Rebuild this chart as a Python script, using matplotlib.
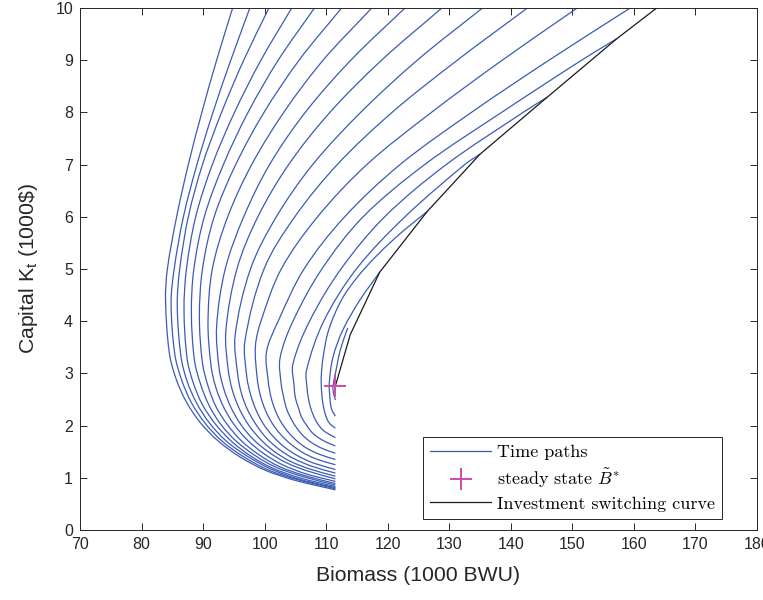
import matplotlib
matplotlib.use('Agg')
import matplotlib.pyplot as plt
from matplotlib.lines import Line2D
from matplotlib.path import Path
from matplotlib.patches import PathPatch
from matplotlib.font_manager import FontProperties

# ---- data ----
x_ticks = [70, 80, 90, 100, 110, 120, 130, 140, 150, 160, 170, 180]
y_ticks = [0, 1, 2, 3, 4, 5, 6, 7, 8, 9, 10]

# time paths: capital K (1000$) and biomass B (1000 BWU), outer -> inner
path_K = [
    [10, 9, 8, 7, 6, 5, 4.40, 3.40, 2.90, 2.45, 2.05, 1.70, 1.40, 1.15, 0.95, 0.77],
    [10, 9, 8, 7, 6, 5, 4.35, 3.37, 2.88, 2.44, 2.05, 1.70, 1.41, 1.16, 0.97, 0.79],
    [10, 9, 8, 7, 6, 5, 4.29, 3.33, 2.85, 2.42, 2.04, 1.70, 1.42, 1.18, 0.98, 0.81],
    [10, 9, 8, 7, 6, 5, 4.22, 3.29, 2.82, 2.40, 2.03, 1.70, 1.42, 1.19, 1.00, 0.83],
    [10, 9, 8, 7, 6, 5, 4.15, 3.25, 2.79, 2.38, 2.02, 1.70, 1.43, 1.21, 1.03, 0.86],
    [10, 9, 8, 7, 6, 5, 4.07, 3.20, 2.76, 2.36, 2.01, 1.70, 1.44, 1.22, 1.05, 0.89],
    [10, 9, 8, 7, 6, 5, 3.98, 3.14, 2.72, 2.34, 2.01, 1.71, 1.46, 1.25, 1.08, 0.93],
    [10, 9, 8, 7, 6, 5, 3.90, 3.10, 2.69, 2.33, 2.01, 1.73, 1.49, 1.29, 1.13, 0.98],
    [10, 9, 8, 7, 6, 5, 3.81, 3.05, 2.66, 2.32, 2.01, 1.74, 1.51, 1.32, 1.17, 1.03],
    [10, 9, 8, 7, 6, 5, 3.72, 3.00, 2.63, 2.31, 2.02, 1.76, 1.55, 1.37, 1.22, 1.09],
    [10, 9, 8, 7, 6, 5, 3.62, 2.94, 2.60, 2.30, 2.03, 1.79, 1.59, 1.42, 1.28, 1.16],
    [10, 9, 8, 7, 6, 5, 4, 3.52, 2.90, 2.58, 2.30, 2.05, 1.83, 1.65, 1.49, 1.36, 1.25],
    [10, 9, 8, 7, 6, 5, 4, 3.41, 2.84, 2.56, 2.30, 2.08, 1.88, 1.71, 1.57, 1.45, 1.35],
    [9.41, 9, 8, 7, 6, 5, 4, 3.29, 2.79, 2.54, 2.31, 2.11, 1.94, 1.79, 1.66, 1.56, 1.47],
    [8.29, 8, 7, 6, 5, 4, 3.18, 2.75, 2.53, 2.34, 2.16, 2.01, 1.88, 1.78, 1.69, 1.61],
    [7.20, 7, 6, 5, 4, 3.06, 2.71, 2.53, 2.37, 2.23, 2.10, 1.99, 1.91, 1.84, 1.77],
    [6.10, 5.80, 5.56, 5.23, 4.85, 4.41, 3.83, 3.31, 2.93, 2.66, 2.40, 2.20, 2.05, 1.95],
    [4.94, 4.41, 3.83, 3.31, 2.81, 2.54, 2.38, 2.28, 2.18],
    [3.87, 3.45, 3.0, 2.74, 2.62, 2.49],
]
path_B = [
    [94.8, 92.2, 89.8, 87.6, 85.7, 84.2, 83.9, 84.5, 85.6, 87.3, 89.6, 92.5, 96.0, 100.0, 105.0, 111.5],
    [97.6, 94.5, 91.6, 89.0, 86.8, 85.3, 84.8, 85.4, 86.5, 88.1, 90.3, 93.1, 96.5, 100.4, 105.2, 111.5],
    [100.7, 96.6, 93.0, 89.9, 87.6, 86.2, 85.8, 86.4, 87.4, 89.0, 91.1, 93.8, 97.1, 100.8, 105.4, 111.5],
    [104.4, 99.4, 95.1, 91.5, 88.8, 87.3, 86.9, 87.4, 88.4, 89.9, 92.0, 94.6, 97.7, 101.2, 105.7, 111.5],
    [108.1, 102.2, 97.3, 93.3, 90.2, 88.5, 88.1, 88.6, 89.6, 91.0, 92.9, 95.4, 98.4, 101.7, 106.0, 111.5],
    [112.5, 105.6, 99.9, 95.3, 91.8, 89.9, 89.4, 89.9, 90.8, 92.1, 94.0, 96.3, 99.1, 102.3, 106.3, 111.5],
    [117.4, 109.5, 103.1, 97.9, 94.0, 91.5, 90.8, 91.3, 92.1, 93.4, 95.1, 97.3, 99.9, 102.9, 106.6, 111.5],
    [122.8, 114.0, 106.6, 100.8, 96.6, 93.6, 92.2, 92.6, 93.4, 94.6, 96.2, 98.2, 100.7, 103.5, 107.0, 111.5],
    [128.8, 119.0, 110.6, 103.9, 98.9, 95.5, 93.7, 94.1, 94.8, 95.9, 97.4, 99.3, 101.5, 104.1, 107.3, 111.5],
    [135.4, 124.8, 115.6, 107.8, 101.9, 97.7, 95.2, 95.6, 96.2, 97.2, 98.6, 100.3, 102.3, 104.7, 107.7, 111.5],
    [142.7, 131.3, 120.7, 111.8, 104.9, 99.9, 96.8, 97.1, 97.7, 98.6, 99.8, 101.4, 103.2, 105.4, 108.0, 111.5],
    [150.8, 138.6, 127.1, 116.6, 108.6, 102.7, 99.4, 98.5, 98.8, 99.3, 100.1, 101.2, 102.6, 104.2, 106.1, 108.4, 111.5],
    [159.4, 146.2, 133.6, 122.0, 113.0, 106.4, 102.2, 100.3, 100.6, 101.0, 101.7, 102.6, 103.8, 105.2, 106.8, 108.9, 111.5],
    [157.2, 151.5, 138.5, 126.0, 116.0, 109.3, 104.6, 102.5, 102.7, 103.1, 103.6, 104.4, 105.3, 106.4, 107.8, 109.4, 111.5],
    [145.9, 142.0, 129.5, 119.5, 112.4, 107.3, 104.6, 104.8, 105.0, 105.5, 106.0, 106.8, 107.6, 108.6, 109.9, 111.5],
    [135.0, 132.5, 122.8, 114.9, 109.6, 106.8, 106.9, 107.1, 107.4, 107.8, 108.3, 108.9, 109.5, 110.4, 111.5],
    [126.4, 123.25, 120.9, 118.0, 115.1, 112.5, 110.4, 109.5, 109.2, 109.25, 109.5, 109.9, 110.5, 111.5],
    [118.7, 115.5, 112.7, 111.1, 110.5, 110.6, 110.75, 111.0, 111.5],
    [113.5, 112.3, 111.5, 111.1, 111.2, 111.5],
]

# investment switching curve
switch_B = [111.5, 113.9, 118.7, 126.4, 135.0, 145.9, 157.2, 163.7]
switch_K = [2.76, 3.74, 4.94, 6.10, 7.20, 8.29, 9.41, 10.0]

# steady state
steady_B = [111.5]
steady_K = [2.76]

labels = ['Time paths', r'steady state $\tilde{B}^{*}$', 'Investment switching curve']

# ---- style ----
blue = '#3B5BB5'
magenta = '#CC4DA8'
grey = '#262626'

plt.rcParams['font.family'] = ['Liberation Sans', 'DejaVu Sans']
plt.rcParams['mathtext.fontset'] = 'custom'
plt.rcParams['mathtext.rm'] = 'Liberation Sans'
plt.rcParams['mathtext.it'] = 'Liberation Sans:italic'

fig = plt.figure(figsize=(7.63, 6.0), dpi=100)
ax = fig.add_axes([80 / 763, 70 / 600, 677 / 763, 522 / 600])
ax.set_xlim(70, 180)
ax.set_ylim(0, 10)

# pixels per data unit, used only to shape smooth Bezier joins through the read points
SX = 677 / 110.0
SY = 522 / 10.0


def smooth_path(xs, ys):
    """Cubic Bezier path passing through every given point (Catmull-Rom style tangents)."""
    n = len(xs)
    P = [(x * SX, y * SY) for x, y in zip(xs, ys)]
    tang = []
    for i in range(n):
        a = P[max(i - 1, 0)]
        b = P[min(i + 1, n - 1)]
        dx, dy = b[0] - a[0], b[1] - a[1]
        L = (dx * dx + dy * dy) ** 0.5 or 1.0
        tang.append((dx / L, dy / L))
    verts = [P[0]]
    codes = [Path.MOVETO]
    for i in range(n - 1):
        p0, p1 = P[i], P[i + 1]
        d = ((p1[0] - p0[0]) ** 2 + (p1[1] - p0[1]) ** 2) ** 0.5 / 3.0
        c1 = (p0[0] + tang[i][0] * d, p0[1] + tang[i][1] * d)
        c2 = (p1[0] - tang[i + 1][0] * d, p1[1] - tang[i + 1][1] * d)
        verts += [c1, c2, p1]
        codes += [Path.CURVE4] * 3
    verts = [(vx / SX, vy / SY) for vx, vy in verts]
    return Path(verts, codes)


for kk, bb in zip(path_K, path_B):
    ax.add_patch(PathPatch(smooth_path(bb, kk), facecolor='none', edgecolor=blue,
                           lw=0.9, zorder=2))
ax.plot(switch_B, switch_K, color='#1a1a1a', lw=0.9, zorder=3)
ax.plot(steady_B, steady_K, linestyle='none', marker='+', markersize=16,
        markeredgewidth=1.4, color=magenta, zorder=4)

ax.set_xticks(x_ticks)
ax.set_yticks(y_ticks)
ax.tick_params(direction='in', length=5, width=0.7, colors=grey, labelsize=11.5,
               top=True, right=True, pad=5)
for sp in ax.spines.values():
    sp.set_color(grey)
    sp.set_linewidth(0.7)

ax.set_xlabel('Biomass (1000 BWU)', fontsize=15.3, color=grey, labelpad=10)
ax.set_ylabel(r'Capital K$_{\mathrm{t}}$ (1000\$)', fontsize=15.3, color=grey, labelpad=11)

handles = [
    Line2D([], [], color=blue, lw=0.9),
    Line2D([], [], linestyle='none', marker='+', markersize=16, markeredgewidth=1.4, color=magenta),
    Line2D([], [], color='#1a1a1a', lw=0.9),
]
prop = FontProperties(family='cmr10', size=13, math_fontfamily='cm')
leg = ax.legend(handles, labels, loc='lower right', prop=prop,
                bbox_to_anchor=(722 / 763, 81 / 600), bbox_transform=fig.transFigure,
                borderaxespad=0, fancybox=False, framealpha=1, edgecolor=grey,
                handlelength=3.4, handletextpad=0.3, labelspacing=0.35,
                borderpad=0.4)
leg.get_frame().set_linewidth(0.7)

fig.savefig('out.png', dpi=100)
